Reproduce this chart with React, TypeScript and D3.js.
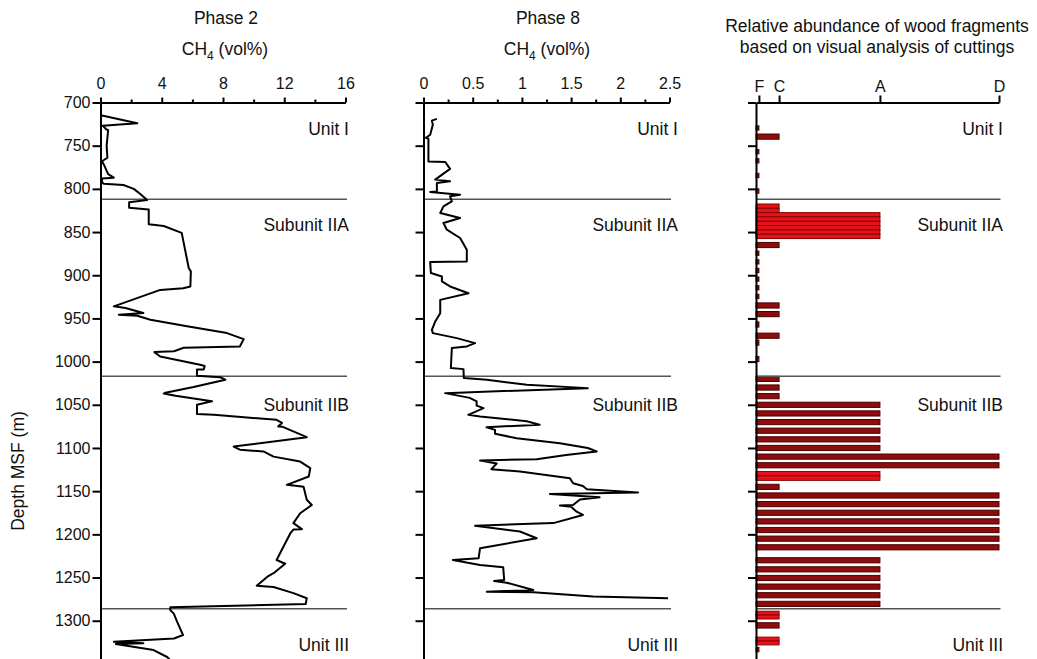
import React, { useEffect, useRef } from "react";
import * as d3 from "d3";

const W = 1037;
const H = 659;
const FONT = "'Liberation Sans', Arial, Helvetica, sans-serif";

// ---------- data ----------
const depthTicks = [700, 750, 800, 850, 900, 950, 1000, 1050, 1100, 1150, 1200, 1250, 1300];
const phase2Major = [0, 4, 8, 12, 16];
const phase2Minor = [2, 6, 10, 14];
const phase8Major = [0, 0.5, 1, 1.5, 2, 2.5];
const phase8Minor = [0.25, 0.75, 1.25, 1.75, 2.25];
const abundanceCats = ["F", "C", "A", "D"];
const abundanceVals = [1.2, 9.5, 51, 100];

const unitBoundaries = [812, 1017, 1286];
const unitNames = ["Unit I", "Subunit IIA", "Subunit IIB", "Unit III"];
const unitLabelDepths = [731, 842, 1050, 1328];

// Phase 2 CH4 (vol%) vs depth
const phase2: [number, number][] = [
  [0.1, 715], [2.4, 724], [0.15, 727], [0.37, 731], [0.5, 732], [0.4, 750], [0.45, 764],
  [0.1, 768], [0.25, 773], [0.5, 783], [0.87, 787], [0.1, 788], [0.1, 792], [0.2, 794],
  [1.5, 795.5], [2.17, 800], [2.6, 806], [3.04, 813], [1.87, 815.5], [1.87, 822], [3.15, 824],
  [3.15, 841], [4.13, 843], [5.3, 851], [5.35, 855], [5.76, 891.6], [5.9, 895.5], [5.87, 913],
  [5.4, 915], [3.9, 917], [0.87, 936], [1.63, 938], [2.8, 943.8], [1.2, 945.7], [2.4, 947],
  [3.26, 951.5], [5.65, 959], [8.26, 967], [9.35, 974], [9.1, 982.4], [5.43, 984], [4.8, 988],
  [3.52, 989], [3.9, 994], [6.5, 1003.7], [6.8, 1005], [6.75, 1009], [6.3, 1009], [6.3, 1016.4],
  [7.8, 1018], [8.15, 1021], [6.08, 1029.5], [4.24, 1036], [4.13, 1037], [4.9, 1039.6],
  [7.28, 1046], [6.3, 1050], [6.3, 1060.8], [7.4, 1061.5], [11.5, 1067.4], [11.85, 1071],
  [11.6, 1075], [11.9, 1075.5], [13.47, 1087.5], [8.7, 1098.4], [9.1, 1102], [10.64, 1104],
  [11.3, 1110], [13.04, 1115.7], [13.7, 1123.4], [13.6, 1133], [12.17, 1142.7], [12.6, 1143.5],
  [13.26, 1145], [13.47, 1160], [13.8, 1166], [13.04, 1175.6], [12.6, 1187], [13.15, 1194],
  [12.6, 1194.5], [12.4, 1198.7], [11.5, 1229.7], [12.06, 1234], [11.3, 1245], [10.9, 1249],
  [10.2, 1259.4], [11.3, 1261], [12.6, 1268], [13.47, 1274], [13.4, 1280.7], [4.56, 1284.5],
  [4.56, 1288], [4.78, 1291.5], [5.0, 1301], [5.39, 1316.6], [4.8, 1320.6], [0.87, 1324.4],
  [2.8, 1326], [1.0, 1327], [3.47, 1334], [4.35, 1342], [4.8, 1350],
];

// Phase 8 CH4 (vol%) vs depth
const phase8: [number, number][] = [
  [0.136, 719], [0.085, 721], [0.095, 725.7], [0.068, 737.3], [0.024, 741], [0.05, 742],
  [0.05, 768.4], [0.22, 768.8], [0.27, 776.9], [0.119, 789.3], [0.27, 791.3], [0.136, 793.3],
  [0.136, 802.9], [0.068, 803.6], [0.372, 806.7], [0.27, 808.6], [0.288, 814.4], [0.203, 820.2],
  [0.17, 827.9], [0.372, 833.7], [0.203, 839.5], [0.237, 847.3], [0.372, 856.9], [0.44, 870.5],
  [0.44, 884], [0.068, 884.8], [0.075, 897.5], [0.187, 901.4], [0.187, 907.2], [0.27, 913],
  [0.457, 920.8], [0.17, 928.5], [0.17, 943.9], [0.119, 953.6], [0.085, 963.2], [0.095, 967],
  [0.338, 972.8], [0.524, 978.6], [0.44, 982.4], [0.288, 984.3], [0.278, 1007.5], [0.406, 1008.7],
  [0.41, 1019], [0.643, 1021], [1.05, 1026.8], [1.67, 1030.7], [0.22, 1036.5], [0.47, 1042],
  [0.54, 1046], [0.54, 1051], [0.61, 1053.9], [0.456, 1061.6], [0.575, 1063.6], [1.05, 1069],
  [1.18, 1073], [0.64, 1076], [0.727, 1079], [0.727, 1083.6], [0.947, 1088.7], [1.386, 1094.4],
  [1.67, 1100], [1.76, 1104], [1.45, 1108], [1.15, 1113], [0.575, 1114.5], [0.744, 1118],
  [0.69, 1124.5], [0.98, 1127.2], [1.488, 1135], [1.52, 1140.9], [1.62, 1144], [1.66, 1147.7],
  [2.18, 1151.6], [1.285, 1153.2], [1.79, 1157], [1.59, 1159.6], [1.52, 1166], [1.386, 1166.6],
  [1.5, 1168], [1.556, 1173.8], [1.62, 1177.5], [1.32, 1187], [0.524, 1190], [0.98, 1196.7],
  [1.15, 1204.5], [0.575, 1216], [0.56, 1227.7], [0.298, 1229.7], [0.575, 1235.5], [0.81, 1238],
  [0.82, 1252.8], [0.717, 1254], [0.846, 1256], [1.116, 1264.4], [0.643, 1266.4], [1.116, 1267],
  [1.724, 1272], [2.485, 1274],
];

// Wood fragment abundance from cuttings: [top depth, bottom depth]
const barTop = [
  727, 736.5, 754.5, 765, 782, 800,
  817.5, 822.5, 827.5, 832.5, 837.5, 842.5, 847.5, 852.5,
  862, 872, 882, 892, 902, 912, 922, 932, 942, 954, 967, 975, 994,
  1017, 1027, 1037, 1047, 1057, 1067, 1077, 1087, 1097, 1107, 1117,
  1127.2, 1132.3, 1142, 1152, 1162, 1172, 1182, 1192, 1202, 1212,
  1227, 1237.5, 1247.5, 1257.5, 1267.5, 1277.5,
  1289, 1293.5, 1302.3, 1319, 1323.5, 1331,
];
const barBottom = [
  732, 742.5, 759.5, 770, 787, 805,
  822.5, 827.5, 832.5, 837.5, 842.5, 847.5, 852.5, 857.5,
  868, 877, 887, 897, 907, 917, 927, 938, 948, 960, 973, 981, 1000,
  1023, 1033, 1043, 1053, 1063, 1073, 1083, 1093, 1103, 1113, 1123,
  1132.3, 1137.5, 1148, 1158, 1168, 1178, 1188, 1198, 1208, 1218,
  1233, 1243.5, 1253.5, 1263.5, 1273.5, 1283.5,
  1293.5, 1298, 1308.5, 1323.5, 1328, 1336,
];
const barCat = [
  "F", "C", "F", "F", "F", "F",
  "C", "C", "A", "A", "A", "A", "A", "A",
  "C", "F", "F", "F", "F", "F", "F", "C", "C", "F", "C", "F", "F",
  "C", "C", "C", "A", "A", "A", "A", "A", "A", "D", "D",
  "A", "A", "C", "D", "D", "D", "D", "D", "D", "D",
  "A", "A", "A", "A", "A", "A",
  "C", "C", "C", "C", "C", "F",
];
const barBright = [
  0, 0, 0, 0, 0, 0,
  1, 1, 1, 1, 1, 1, 1, 1,
  0, 0, 0, 0, 0, 0, 0, 0, 0, 0, 0, 0, 0,
  0, 0, 0, 0, 0, 0, 0, 0, 0, 0, 0,
  1, 1, 0, 0, 0, 0, 0, 0, 0, 0,
  0, 0, 0, 0, 0, 0,
  1, 1, 0, 1, 1, 0,
];

// ---------- scales ----------
const y = d3.scaleLinear().domain([700, 1350]).range([102.5, 102.5 + 650 * 0.8637]);
const x1 = d3.scaleLinear().domain([0, 16]).range([100.5, 345.5]);
const x2 = d3.scaleLinear().domain([0, 2.5]).range([423.5, 669.5]);
const x3 = d3.scaleLinear().domain([0, 100]).range([756, 999]);
const catVal = (c: string) => abundanceVals[abundanceCats.indexOf(c)];

function AxisG({ axis, transform, fontSize = 16 }: any) {
  const ref = useRef<SVGGElement>(null);
  useEffect(() => {
    const g = d3.select(ref.current as SVGGElement);
    g.call(axis);
    g.attr("font-family", FONT).attr("font-size", fontSize);
    g.selectAll("path.domain").attr("stroke-width", 2).attr("stroke", "#000");
    g.selectAll(".tick line").attr("stroke-width", 2).attr("stroke", "#000");
    g.selectAll(".tick text").attr("fill", "#111");
  });
  return <g ref={ref} transform={transform} />;
}

function Panel({ x, major, minor, fmt, showDepthLabels, labelRight, line, tickLen, labelPad }: any) {
  const x0 = x.range()[0];
  const x1r = x.range()[1];
  const top = y(700);
  const topAxis = d3.axisTop(x).tickValues(major).tickSize(tickLen).tickSizeOuter(0).tickPadding(labelPad).tickFormat(fmt);
  const minorAxis = minor
    ? d3.axisTop(x).tickValues(minor).tickSize(3).tickSizeOuter(0).tickFormat(() => "")
    : null;
  const leftAxis = d3
    .axisLeft(y)
    .tickValues(depthTicks)
    .tickSize(8)
    .tickSizeOuter(0)
    .tickPadding(2)
    .tickFormat(showDepthLabels ? (d: any) => String(d) : () => "");
  const path = line ? d3.line<[number, number]>().x((d) => x(d[0])).y((d) => y(d[1]))(line) : null;
  return (
    <g>
      {unitBoundaries.map((d, i) => (
        <line key={i} x1={x0} x2={x1r + 1.5} y1={y(d)} y2={y(d)} stroke="#555" strokeWidth={1.5} />
      ))}
      {unitNames.map((n, i) => (
        <text key={n} x={labelRight} y={y(unitLabelDepths[i])} dy="0.35em" textAnchor="end"
          fontFamily={FONT} fontSize={17.5} fill="#111">{n}</text>
      ))}
      {path && <path d={path} fill="none" stroke="#000" strokeWidth={2} strokeLinejoin="round" />}
      {minorAxis && <AxisG axis={minorAxis} transform={`translate(0,${top})`} />}
      <AxisG axis={topAxis} transform={`translate(0,${top})`} />
      <AxisG axis={leftAxis} transform={`translate(${x0},0)`} />
    </g>
  );
}

function Title({ cx, lines }: any) {
  return null;
}

export default function App() {
  return (
    <svg width={W} height={H} style={{ position: "absolute", left: 0, top: 0, background: "#fff" }}
      fontFamily={FONT}>
      <rect x={0} y={0} width={W} height={H} fill="#fff" />
      {/* headers */}
      <text x={226} y={24} textAnchor="middle" fontSize={17.5} fill="#111">Phase 2</text>
      <text x={225} y={55} textAnchor="middle" fontSize={17.5} fill="#111">
        CH<tspan fontSize={12} dy={5}>4</tspan><tspan dy={-5}> (vol%)</tspan>
      </text>
      <text x={548} y={24} textAnchor="middle" fontSize={17.5} fill="#111">Phase 8</text>
      <text x={547} y={55} textAnchor="middle" fontSize={17.5} fill="#111">
        CH<tspan fontSize={12} dy={5}>4</tspan><tspan dy={-5}> (vol%)</tspan>
      </text>
      <text x={877} y={31.5} textAnchor="middle" fontSize={17.5} fill="#111">Relative abundance of wood fragments</text>
      <text x={877} y={53} textAnchor="middle" fontSize={17.5} fill="#111">based on visual analysis of cuttings</text>
      <text transform={`translate(24,471) rotate(-90)`} textAnchor="middle" fontSize={17.5} fill="#111">Depth MSF (m)</text>

      <Panel x={x1} major={phase2Major} minor={phase2Minor} fmt={(d: any) => String(d)}
        showDepthLabels labelRight={349} line={phase2} tickLen={5} labelPad={9} />
      <Panel x={x2} major={phase8Major} minor={phase8Minor} fmt={(d: any) => String(d)}
        showDepthLabels={false} labelRight={678} line={phase8} tickLen={5} labelPad={9} />

      {/* bars */}
      <g>
        {barTop.map((t, i) => {
          const bright = barBright[i] === 1;
          return (
            <rect key={i} x={x3(0)} y={y(t)} width={x3(catVal(barCat[i])) - x3(0)} height={y(barBottom[i]) - y(t)}
              fill={bright ? "#e5121b" : "#8e0c0c"} stroke={bright ? "#8a0000" : "#4a0000"} strokeWidth={1} />
          );
        })}
      </g>
      <Panel x={x3} major={abundanceVals} minor={null}
        fmt={(d: any) => abundanceCats[abundanceVals.indexOf(d)]}
        showDepthLabels={false} labelRight={1003} line={null} tickLen={7} labelPad={4} />
    </svg>
  );
}
